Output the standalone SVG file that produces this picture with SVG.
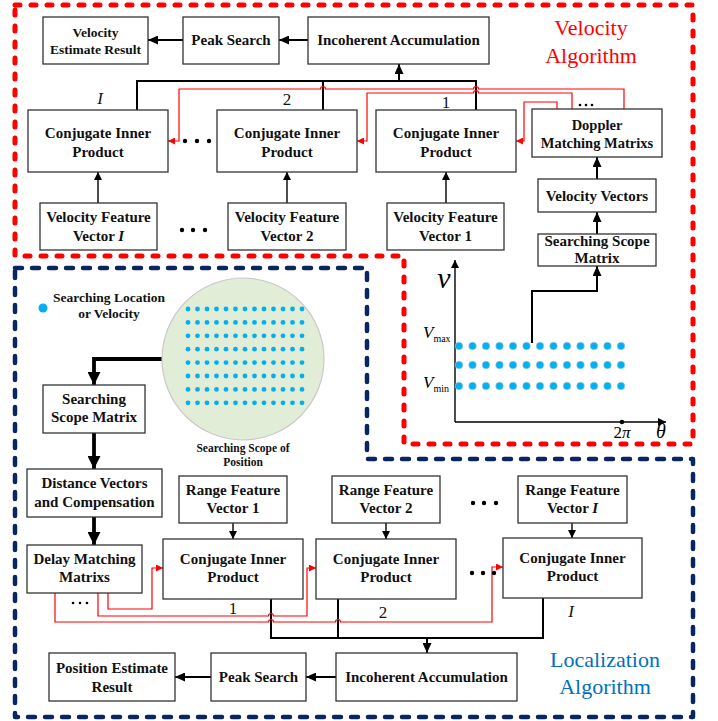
<svg xmlns="http://www.w3.org/2000/svg" width="718" height="721" viewBox="0 0 718 721">
<defs>
<style>
.box{fill:#fff;stroke:#333;stroke-width:1.3}
.t{font-family:"Liberation Serif","Times New Roman",serif;font-weight:bold;font-size:15px;text-anchor:middle;fill:#111}
.lbl{font-family:"Liberation Serif","Times New Roman",serif;font-size:17px;text-anchor:middle;fill:#111}
.it{font-style:italic}
.blk{stroke:#000;stroke-width:2;fill:none}
.thin{stroke:#000;stroke-width:1.4;fill:none}
.thick{stroke:#000;stroke-width:3.8;fill:none}
.red{stroke:#f00;stroke-width:1.2;fill:none}
.dot{fill:#00b0f0}
.pdot{fill:#00b0f0;stroke:#a9c7d3;stroke-width:0.6}
.big{font-family:"Liberation Serif","Times New Roman",serif;font-size:22px;text-anchor:middle}
</style>
<marker id="ah" markerUnits="userSpaceOnUse" markerWidth="10" markerHeight="9" refX="10" refY="4.5" orient="auto"><path d="M0,0 L10,4.5 L0,9 z" fill="#000"/></marker>
<marker id="as" markerUnits="userSpaceOnUse" markerWidth="8" markerHeight="8" refX="8" refY="4" orient="auto"><path d="M0,0 L8,4 L0,8 z" fill="#000"/></marker>
<marker id="at" markerUnits="userSpaceOnUse" markerWidth="13" markerHeight="13" refX="13" refY="6.5" orient="auto"><path d="M0,0 L13,6.5 L0,13 z" fill="#000"/></marker>
<marker id="ar" markerUnits="userSpaceOnUse" markerWidth="7" markerHeight="7" refX="7" refY="3.5" orient="auto"><path d="M0,0 L7,3.5 L0,7 z" fill="#f00"/></marker>
</defs>
<rect width="718" height="721" fill="#fff"/>

<!-- region borders -->
<path d="M15,5 H693 V444 H404 V256 H15 Z" fill="none" stroke="#f00" stroke-width="5" stroke-dasharray="5 11" stroke-linecap="round" stroke-linejoin="round"/>
<path d="M15,268 H367 V459 H693 V717 H15 Z" fill="none" stroke="#0b2560" stroke-width="4.5" stroke-dasharray="7 10" stroke-linecap="round" stroke-linejoin="round"/>

<text class="big" x="591" y="35" fill="#f00">Velocity</text>
<text class="big" x="591" y="63" fill="#f00">Algorithm</text>
<text class="big" x="605" y="667" fill="#0070c0">Localization</text>
<text class="big" x="605" y="694" fill="#0070c0">Algorithm</text>

<!-- connectors -->
<g id="connectors">
<line class="blk" x1="308" y1="40" x2="279" y2="40" marker-end="url(#ah)"/>
<line class="blk" x1="183" y1="40" x2="148" y2="40" marker-end="url(#ah)"/>
<line class="blk" x1="399" y1="81" x2="399" y2="64" marker-end="url(#ah)"/>
<path class="blk" d="M137,110 V81 H476 V111 M323,81 V111"/>
<line class="thin" x1="98" y1="203" x2="98" y2="172" marker-end="url(#as)"/>
<line class="thin" x1="287" y1="203" x2="287" y2="172" marker-end="url(#as)"/>
<line class="thin" x1="446" y1="203" x2="446" y2="172" marker-end="url(#as)"/>
<line class="blk" x1="597" y1="179" x2="597" y2="157" marker-end="url(#ah)"/>
<line class="blk" x1="597" y1="234" x2="597" y2="212" marker-end="url(#ah)"/>
<path class="blk" d="M532,343 V291 H597 V266" marker-end="url(#ah)"/>
<path class="red" d="M557,109 V102 H524 V141 H516" marker-end="url(#ar)"/>
<path class="red" d="M572,109 V93 H478.5 a2.5,2.5 0 0 0 -5,0 H367 V141 H357" marker-end="url(#ar)"/>
<path class="red" d="M624,109 V89 H478.5 a2.5,2.5 0 0 0 -5,0 H325.5 a2.5,2.5 0 0 0 -5,0 H179 V141 H168" marker-end="url(#ar)"/>

<path class="thick" d="M162,359 H94 V385" marker-end="url(#at)"/>
<line class="thick" x1="94" y1="433" x2="94" y2="469" marker-end="url(#at)"/>
<line class="thick" x1="94" y1="517" x2="94" y2="545" marker-end="url(#at)"/>
<line class="thin" x1="233" y1="523" x2="233" y2="539" marker-end="url(#as)"/>
<line class="thin" x1="386" y1="523" x2="386" y2="539" marker-end="url(#as)"/>
<line class="thin" x1="572" y1="523" x2="572" y2="538" marker-end="url(#as)"/>
<path class="blk" d="M271,599 V638 H543 V598 M338,599 V638"/>
<line class="blk" x1="427" y1="638" x2="427" y2="653" marker-end="url(#ah)"/>
<line class="blk" x1="336" y1="677" x2="306" y2="677" marker-end="url(#ah)"/>
<line class="blk" x1="211" y1="677" x2="175" y2="677" marker-end="url(#ah)"/>
<path class="red" d="M108,593 V609 H152 V568 H163" marker-end="url(#ar)"/>
<path class="red" d="M98,593 V616 H268.5 a2.5,2.5 0 0 1 5,0 H307 V568 H316" marker-end="url(#ar)"/>
<path class="red" d="M55,593 V622 H268.5 a2.5,2.5 0 0 1 5,0 H335.5 a2.5,2.5 0 0 1 5,0 H492 V567 H503" marker-end="url(#ar)"/>
</g>

<!-- top labels and ellipses -->
<text class="lbl it" x="100" y="104">I</text>
<text class="lbl" x="287" y="105">2</text>
<text class="lbl" x="446" y="108">1</text>
<g fill="#000">
<circle cx="185" cy="141" r="2.2"/><circle cx="197" cy="141" r="2.2"/><circle cx="209" cy="141" r="2.2"/>
<circle cx="182" cy="230" r="2.2"/><circle cx="193" cy="230" r="2.2"/><circle cx="205" cy="230" r="2.2"/>
<circle cx="580" cy="105" r="1.3"/><circle cx="586" cy="105" r="1.3"/><circle cx="592" cy="105" r="1.3"/>
<circle cx="73" cy="603" r="1.3"/><circle cx="80" cy="603" r="1.3"/><circle cx="87" cy="603" r="1.3"/>
<circle cx="473" cy="503" r="2.2"/><circle cx="484" cy="503" r="2.2"/><circle cx="496" cy="503" r="2.2"/>
<circle cx="472" cy="573" r="2.2"/><circle cx="483" cy="573" r="2.2"/><circle cx="494" cy="573" r="2.2"/>
</g>
<text class="lbl" x="233" y="614">1</text>
<text class="lbl" x="383" y="618">2</text>
<text class="lbl it" x="571" y="617">I</text>

<!-- top nodes -->
<g id="vel_result"><rect class="box" x="43" y="17" width="105" height="47"/><text class="t" x="95.5" y="37" style="font-size:13.5px">Velocity</text><text class="t" x="95.5" y="54" style="font-size:13.5px">Estimate Result</text></g>
<g id="peak_top"><rect class="box" x="183" y="17" width="96" height="47"/><text class="t" x="231" y="45">Peak Search</text></g>
<g id="incoh_top"><rect class="box" x="308" y="17" width="181" height="47"/><text class="t" x="398.5" y="45">Incoherent Accumulation</text></g>
<g id="cip_top_I"><rect class="box" x="28" y="110" width="140" height="62"/><text class="t" x="98" y="138">Conjugate Inner</text><text class="t" x="98" y="157">Product</text></g>
<g id="cip_top_2"><rect class="box" x="217" y="110" width="140" height="62"/><text class="t" x="287" y="138">Conjugate Inner</text><text class="t" x="287" y="157">Product</text></g>
<g id="cip_top_1"><rect class="box" x="376" y="110" width="140" height="62"/><text class="t" x="446" y="138">Conjugate Inner</text><text class="t" x="446" y="157">Product</text></g>
<g id="doppler"><rect class="box" x="532" y="109" width="130" height="48"/><text class="t" x="597" y="130" style="font-size:14.5px">Doppler</text><text class="t" x="597" y="148" style="font-size:14.5px">Matching Matrixs</text></g>
<g id="vfv_I"><rect class="box" x="40" y="203" width="117" height="47"/><text class="t" x="98.5" y="222">Velocity Feature</text><text class="t" x="98.5" y="241">Vector <tspan font-style="italic">I</tspan></text></g>
<g id="vfv_2"><rect class="box" x="228" y="203" width="118" height="47"/><text class="t" x="287" y="222">Velocity Feature</text><text class="t" x="287" y="241">Vector 2</text></g>
<g id="vfv_1"><rect class="box" x="387" y="203" width="117" height="47"/><text class="t" x="445.5" y="222">Velocity Feature</text><text class="t" x="445.5" y="241">Vector 1</text></g>
<g id="vel_vectors"><rect class="box" x="538" y="179" width="118" height="33"/><text class="t" x="597" y="201">Velocity Vectors</text></g>
<g id="ssm_top"><rect class="box" x="538" y="234" width="118" height="32"/><text class="t" x="597" y="246">Searching Scope</text><text class="t" x="597" y="263">Matrix</text></g>

<!-- velocity plot -->
<g id="vel_plot">
<path class="thin" d="M455,422 V260" marker-end="url(#as)"/>
<path class="thin" d="M455,422 H666" marker-end="url(#as)"/>
<circle cx="622" cy="422" r="2.3" fill="#000"/>
<text x="444" y="288" style="font-family:'Liberation Serif',serif;font-style:italic;font-size:30px;text-anchor:middle">v</text>
<text x="423" y="338" style="font-family:'Liberation Serif',serif;font-size:17px"><tspan font-style="italic">V</tspan><tspan font-size="10" dy="4">max</tspan></text>
<text x="423" y="388" style="font-family:'Liberation Serif',serif;font-size:17px"><tspan font-style="italic">V</tspan><tspan font-size="10" dy="4">min</tspan></text>
<text x="622" y="438" style="font-family:'Liberation Serif',serif;font-size:17px;text-anchor:middle">2<tspan font-style="italic">π</tspan></text>
<text x="661" y="438" style="font-family:'Liberation Serif',serif;font-style:italic;font-size:20px;text-anchor:middle">θ</text>
<g class="pdot">
<circle cx="459" cy="346" r="3.8"/><circle cx="472.5" cy="346" r="3.8"/><circle cx="486" cy="346" r="3.8"/><circle cx="499.5" cy="346" r="3.8"/><circle cx="513" cy="346" r="3.8"/><circle cx="526.5" cy="346" r="3.8"/><circle cx="540" cy="346" r="3.8"/><circle cx="553.5" cy="346" r="3.8"/><circle cx="567" cy="346" r="3.8"/><circle cx="580.5" cy="346" r="3.8"/><circle cx="594" cy="346" r="3.8"/><circle cx="607.5" cy="346" r="3.8"/><circle cx="621" cy="346" r="3.8"/>
<circle cx="459" cy="365" r="3.8"/><circle cx="472.5" cy="365" r="3.8"/><circle cx="486" cy="365" r="3.8"/><circle cx="499.5" cy="365" r="3.8"/><circle cx="513" cy="365" r="3.8"/><circle cx="526.5" cy="365" r="3.8"/><circle cx="540" cy="365" r="3.8"/><circle cx="553.5" cy="365" r="3.8"/><circle cx="567" cy="365" r="3.8"/><circle cx="580.5" cy="365" r="3.8"/><circle cx="594" cy="365" r="3.8"/><circle cx="607.5" cy="365" r="3.8"/><circle cx="621" cy="365" r="3.8"/>
<circle cx="459" cy="386" r="3.8"/><circle cx="472.5" cy="386" r="3.8"/><circle cx="486" cy="386" r="3.8"/><circle cx="499.5" cy="386" r="3.8"/><circle cx="513" cy="386" r="3.8"/><circle cx="526.5" cy="386" r="3.8"/><circle cx="540" cy="386" r="3.8"/><circle cx="553.5" cy="386" r="3.8"/><circle cx="567" cy="386" r="3.8"/><circle cx="580.5" cy="386" r="3.8"/><circle cx="594" cy="386" r="3.8"/><circle cx="607.5" cy="386" r="3.8"/><circle cx="621" cy="386" r="3.8"/>
</g>
</g>

<!-- legend and search scope -->
<g id="legend">
<circle cx="43" cy="308" r="4.5" class="dot"/>
<text class="t" x="109" y="302" style="font-size:13.5px">Searching Location</text>
<text class="t" x="109" y="318" style="font-size:13.5px">or Velocity</text>
</g>
<g id="scope_position">
<circle cx="243" cy="359" r="81" fill="#e2edd8" stroke="#c9c9c9" stroke-width="1.2"/>
<g class="dot" id="grid">
<circle cx="188" cy="309" r="2.4"/><circle cx="197.5" cy="309" r="2.4"/><circle cx="207" cy="309" r="2.4"/><circle cx="216.5" cy="309" r="2.4"/><circle cx="226" cy="309" r="2.4"/><circle cx="235.5" cy="309" r="2.4"/><circle cx="245" cy="309" r="2.4"/><circle cx="254.5" cy="309" r="2.4"/><circle cx="264" cy="309" r="2.4"/><circle cx="273.5" cy="309" r="2.4"/><circle cx="283" cy="309" r="2.4"/><circle cx="292.5" cy="309" r="2.4"/><circle cx="302" cy="309" r="2.4"/>
</g>
<use href="#grid" y="13.4"/><use href="#grid" y="26.8"/><use href="#grid" y="40.2"/><use href="#grid" y="53.6"/><use href="#grid" y="67"/><use href="#grid" y="80.4"/><use href="#grid" y="93.8"/>
<text class="t" x="243" y="452" style="font-size:11.5px">Searching Scope of</text>
<text class="t" x="243" y="466" style="font-size:11.5px">Position</text>
</g>

<!-- bottom nodes -->
<g id="ssm_bottom"><rect class="box" x="43" y="385" width="102" height="48"/><text class="t" x="94" y="404">Searching</text><text class="t" x="94" y="422">Scope Matrix</text></g>
<g id="distance"><rect class="box" x="27" y="469" width="135" height="48"/><text class="t" x="94.5" y="488">Distance Vectors</text><text class="t" x="94.5" y="507">and Compensation</text></g>
<g id="delay"><rect class="box" x="27" y="545" width="115" height="48"/><text class="t" x="84.5" y="564">Delay Matching</text><text class="t" x="84.5" y="582">Matrixs</text></g>
<g id="rfv_1"><rect class="box" x="179" y="476" width="108" height="47"/><text class="t" x="233" y="495">Range Feature</text><text class="t" x="233" y="513">Vector 1</text></g>
<g id="rfv_2"><rect class="box" x="332" y="476" width="108" height="47"/><text class="t" x="386" y="495">Range Feature</text><text class="t" x="386" y="513">Vector 2</text></g>
<g id="rfv_I"><rect class="box" x="518" y="476" width="109" height="47"/><text class="t" x="572.5" y="495">Range Feature</text><text class="t" x="572.5" y="513">Vector <tspan font-style="italic">I</tspan></text></g>
<g id="cip_bot_1"><rect class="box" x="163" y="539" width="140" height="60"/><text class="t" x="233" y="564">Conjugate Inner</text><text class="t" x="233" y="582">Product</text></g>
<g id="cip_bot_2"><rect class="box" x="316" y="539" width="140" height="60"/><text class="t" x="386" y="564">Conjugate Inner</text><text class="t" x="386" y="582">Product</text></g>
<g id="cip_bot_I"><rect class="box" x="503" y="538" width="139" height="60"/><text class="t" x="572.5" y="563">Conjugate Inner</text><text class="t" x="572.5" y="581">Product</text></g>
<g id="incoh_bot"><rect class="box" x="336" y="653" width="181" height="48"/><text class="t" x="426.5" y="682">Incoherent Accumulation</text></g>
<g id="peak_bot"><rect class="box" x="211" y="653" width="95" height="48"/><text class="t" x="258.5" y="682">Peak Search</text></g>
<g id="pos_result"><rect class="box" x="49" y="653" width="126" height="48"/><text class="t" x="112" y="673">Position Estimate</text><text class="t" x="112" y="692">Result</text></g>
</svg>
